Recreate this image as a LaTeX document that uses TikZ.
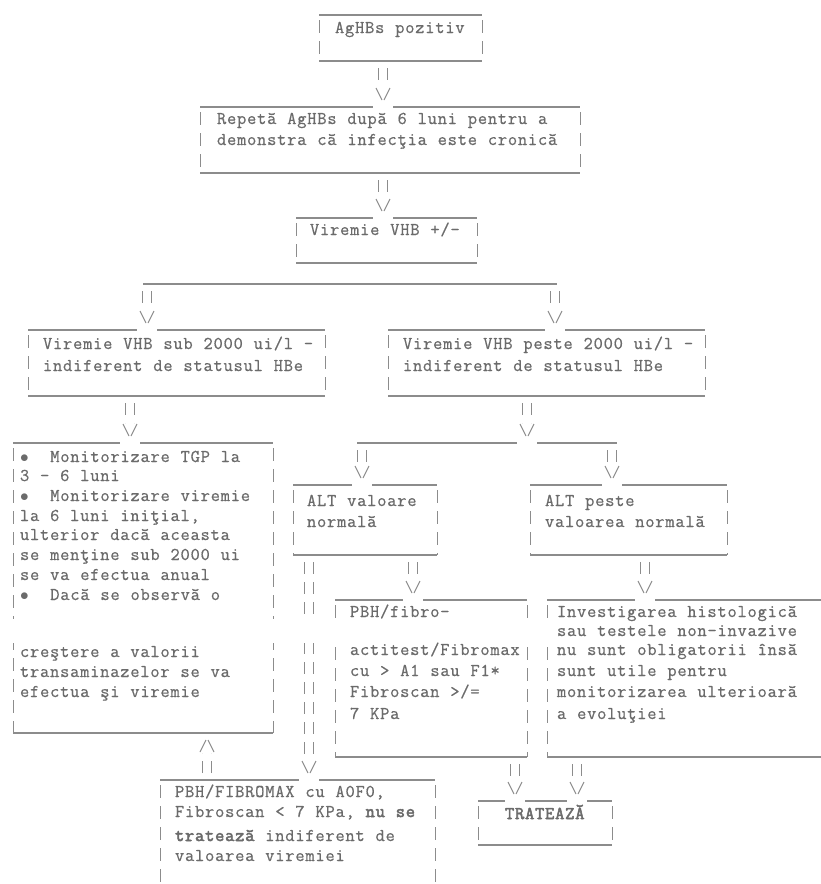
\documentclass[tikz,border=0pt]{standalone}
\usepackage{fontspec}
\newfontfamily\monof[LetterSpace=4.2, WordSpace=1.079, FakeBold=0.6]{Latin Modern Mono}
\newfontfamily\monofb[LetterSpace=4.2, WordSpace=1.079, FakeBold=2.8]{Latin Modern Mono}
\usetikzlibrary{calc}
\definecolor{txt}{gray}{0.42}
\definecolor{ln}{gray}{0.55}
\tikzset{
  boxarea/.style={draw=none, inner sep=0pt, outer sep=0pt, anchor=north west, rectangle},
  hline/.style={draw=ln, line width=1.3pt},
  pipe/.style={draw=ln, line width=1pt, dash pattern=on 13pt off 8pt, dash phase=16pt},
  pairline/.style={draw=ln, line width=1pt, dash pattern=on 12pt off 8pt},
  vhead/.style={draw=ln, line width=1pt},
  tl/.style={anchor=base west, inner sep=0pt, outer sep=0pt, text=txt, font=\monof\fontsize{18}{20}\selectfont},
}
\newcommand\bb[1]{{\monofb\fontsize{18}{20}\selectfont #1}}
\newcommand\asciibox[5]{%
  \node[boxarea, minimum width={(#4)-(#2)}, minimum height={(#5)-(#3)}] (#1) at (#2,#3) {};
  \draw[hline] (#1.north west) -- (#1.north east);
  \draw[hline] (#1.south west) -- (#1.south east);
  \draw[pipe] (#1.north west) -- (#1.south west);
  \draw[pipe] (#1.north east) -- (#1.south east);
}
\newcommand\cnx[3]{%
  \coordinate (cx) at (#1,0);
  \draw[pairline] ($(#2 -| cx)+(-4.5,7)$) -- ($(#3 -| cx)+(-4.5,-20)$);
  \draw[pairline] ($(#2 -| cx)+(4.5,7)$) -- ($(#3 -| cx)+(4.5,-20)$);
  \draw[white, line width=3pt] ($(#3 -| cx)+(-10,0)$) -- ($(#3 -| cx)+(10,0)$);
  \draw[vhead] ($(#3 -| cx)+(-7,-19)$) -- ($(#3 -| cx)+(-1,-7)$);
  \draw[vhead] ($(#3 -| cx)+(7,-19)$) -- ($(#3 -| cx)+(1,-7)$);
}
\newcommand\cnxup[3]{%
  \coordinate (cx) at (#1,0);
  \draw[pairline] ($(#2 -| cx)+(-4.5,-7)$) -- ($(#3 -| cx)+(-4.5,20)$);
  \draw[pairline] ($(#2 -| cx)+(4.5,-7)$) -- ($(#3 -| cx)+(4.5,20)$);
  \draw[vhead] ($(#3 -| cx)+(-7,19)$) -- ($(#3 -| cx)+(-1,7)$);
  \draw[vhead] ($(#3 -| cx)+(7,19)$) -- ($(#3 -| cx)+(1,7)$);
}
\newcommand\txtline[4]{\node[tl] (#1) at (#2,{#3+4}) {#4};}
\newcommand\bul{$\bullet$~~}

\begin{document}
\begin{tikzpicture}[x=1pt,y=-1pt]
\useasboundingbox[fill=white] (0,0) rectangle (821,884);
% boxes
\asciibox{b1}{319}{15}{482}{61}
\asciibox{b2}{200}{107}{580}{173}
\asciibox{b3}{296}{218}{477}{263}
\asciibox{b4l}{28}{330}{325}{396}
\asciibox{b4r}{388}{330}{705}{396}
\asciibox{b5l}{13}{443}{273}{733}
\asciibox{altn}{293}{485}{437}{555}
\asciibox{altp}{530}{485}{727}{555}
\asciibox{pbh}{335}{600}{527}{757}
\asciibox{inv}{547}{600}{830}{757}
\asciibox{trat}{478}{801}{612}{845}
\asciibox{fin}{160}{780}{435}{900}
% split lines
\coordinate (sL) at (143,284);
\coordinate (sR) at (557,284);
\draw[hline] (sL) -- (sR);
\coordinate (tL) at (357,443);
\coordinate (tR) at (617,443);
\draw[hline] (tL) -- (tR);
% connectors
\cnx{383}{b1.south}{b2.north}
\cnx{383}{b2.south}{b3.north}
\cnx{147}{sL}{b4l.north}
\cnx{555}{sR}{b4r.north}
\cnx{130}{b4l.south}{b5l.north}
\cnx{527}{b4r.south}{tL}
\cnx{362}{tL}{altn.north}
\cnx{612}{tR}{altp.north}
\cnx{413}{altn.south}{pbh.north}
\cnx{645}{altp.south}{inv.north}
\cnx{309}{altn.south}{fin.north}
\cnxup{207}{fin.north}{b5l.south}
\cnx{515}{pbh.south}{trat.north}
\cnx{577}{inv.south}{trat.north}
% blank row of the original
\fill[white] (0,619) rectangle (821,643);
% texts
\txtline{t1}{335}{29}{AgHBs pozitiv}
\txtline{t2a}{217}{120}{Repetă AgHBs după 6 luni pentru a}
\txtline{t2b}{217}{141}{demonstra că infecţia este cronică}
\txtline{t3}{310}{231}{Viremie VHB +/-}
\txtline{t4la}{43}{345}{Viremie VHB sub 2000 ui/l -}
\txtline{t4lb}{43}{367}{indiferent de statusul HBe}
\txtline{t4ra}{403}{345}{Viremie VHB peste 2000 ui/l -}
\txtline{t4rb}{403}{367}{indiferent de statusul HBe}
\txtline{t5a}{20}{458}{\bul Monitorizare TGP la}
\txtline{t5b}{20}{477}{3 - 6 luni}
\txtline{t5c}{20}{497}{\bul Monitorizare viremie}
\txtline{t5d}{20}{517}{la 6 luni iniţial,}
\txtline{t5e}{20}{536}{ulterior dacă aceasta}
\txtline{t5f}{20}{556}{se menţine sub 2000 ui}
\txtline{t5g}{20}{576}{se va efectua anual}
\txtline{t5h}{20}{596}{\bul Dacă se observă o}
\txtline{t5i}{20}{653}{creştere a valorii}
\txtline{t5j}{20}{673}{transaminazelor se va}
\txtline{t5k}{20}{693}{efectua şi viremie}
\txtline{tana}{307}{502}{ALT valoare}
\txtline{tanb}{307}{523}{normală}
\txtline{tapa}{545}{502}{ALT peste}
\txtline{tapb}{545}{523}{valoarea normală}
\txtline{tpa}{350}{613}{PBH/fibro-}
\txtline{tpb}{350}{651}{actitest/Fibromax}
\txtline{tpc}{350}{672}{cu > A1 sau F1*}
\txtline{tpd}{350}{693}{Fibroscan >/=}
\txtline{tpe}{350}{715}{7 KPa}
\txtline{tia}{557}{613}{Investigarea histologică}
\txtline{tib}{557}{632}{sau testele non-invazive}
\txtline{tic}{557}{651}{nu sunt obligatorii însă}
\txtline{tid}{557}{672}{sunt utile pentru}
\txtline{tie}{557}{693}{monitorizarea ulterioară}
\txtline{tif}{557}{715}{a evoluţiei}
\txtline{tt}{505}{815}{\bb{TRATEAZĂ}}
\txtline{tfa}{175}{793}{PBH/FIBROMAX cu A0F0,}
\txtline{tfb}{175}{813}{Fibroscan < 7 KPa, \bb{nu se}}
\txtline{tfc}{175}{837}{\bb{tratează} indiferent de}
\txtline{tfd}{175}{857}{valoarea viremiei}
\end{tikzpicture}
\end{document}
